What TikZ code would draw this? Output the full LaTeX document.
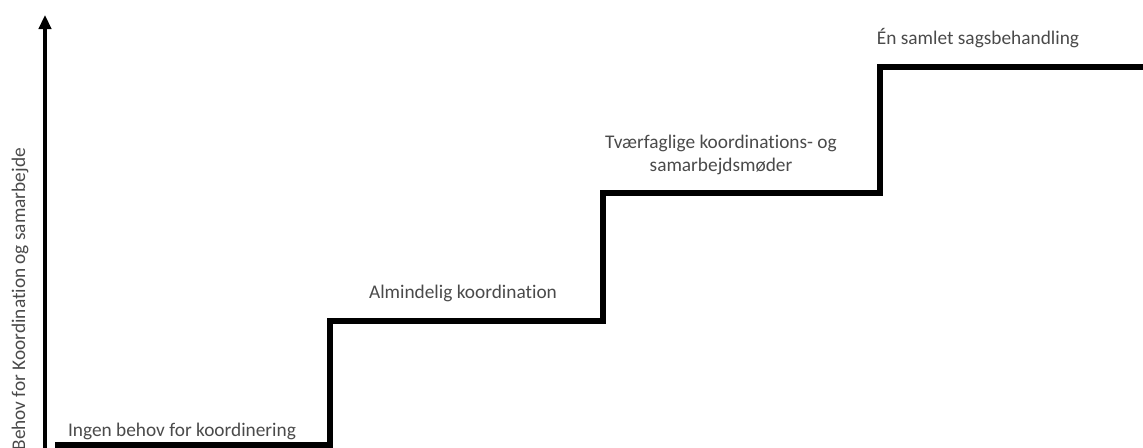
\documentclass[tikz,border=0pt]{standalone}
\usepackage{fontspec}
\setmainfont{Carlito}[Ligatures=NoCommon]
\usetikzlibrary{
  arrows.meta
}
\definecolor{textgray}{HTML}{4A4A4A}

\begin{document}
\begin{tikzpicture}[>={Triangle[length=8pt,width=7pt]}]
\tikzset{
  steptext/.style={text=textgray,font=\fontsize{11}{13}\selectfont,align=center,inner sep=1pt},
  stairline/.style={line width=3.2pt,line join=miter}
}

\useasboundingbox (0,0) rectangle (22.86,8.96);

%--------------------
% 座標軸
%--------------------
\coordinate (AxisO) at (0.9,0.0);
\coordinate (AxisT) at (0.9,8.66);
\draw[->,line width=2pt] (AxisO) -- (AxisT);

\node[steptext,rotate=90,anchor=east] (AxisLabel) at (0.40,6.04)
  {Behov for Koordination og samarbejde};

%--------------------
% 階段
%--------------------
\coordinate (S0) at (1.10,0.06);
\coordinate (S1) at (6.60,0.06);
\coordinate (S2) at (6.60,2.54);
\coordinate (S3) at (12.06,2.54);
\coordinate (S4) at (12.06,5.10);
\coordinate (S5) at (17.60,5.10);
\coordinate (S6) at (17.60,7.62);
\coordinate (S7) at (22.86,7.62);

\draw[stairline]
  (S0) -- (S1) -- (S2) -- (S3) -- (S4) -- (S5) -- (S6) -- (S7);

% ラベル
\node[steptext] (Level1) at (3.64,0.33)
  {Ingen behov for koordinering};
\node[steptext] (Level2) at (9.26,3.10)
  {Almindelig koordination};
\node[steptext] (Level3) at (14.42,5.86)
  {Tværfaglige koordinations- og\\samarbejdsmøder};
\node[steptext] (Level4) at (19.56,8.20)
  {Én samlet sagsbehandling};

\end{tikzpicture}
\end{document}
